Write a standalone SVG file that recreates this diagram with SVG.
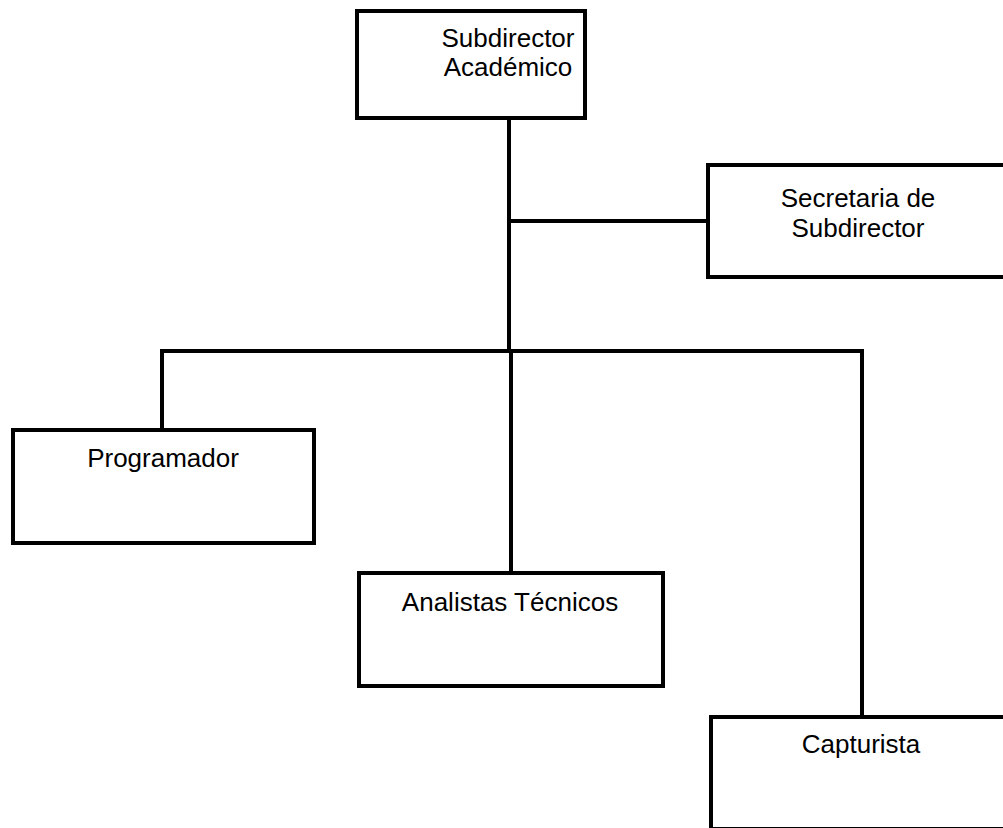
<svg xmlns="http://www.w3.org/2000/svg" width="1003" height="828" viewBox="0 0 1003 828">
  <style>
    .box { fill: #ffffff; stroke: #000000; stroke-width: 4; }
    .wire { fill: none; stroke: #000000; stroke-width: 4; stroke-linecap: square; }
    .label { font-family: "Liberation Sans", Arial, sans-serif; font-size: 26px; fill: #000000; text-anchor: middle; }
  </style>
  <rect x="0" y="0" width="1003" height="828" fill="#ffffff"/>

  <!-- organisational tree wiring -->
  <g id="connectors">
    <line class="wire" x1="509" y1="118" x2="509" y2="351"/>
    <line class="wire" x1="509" y1="221" x2="708" y2="221"/>
    <line class="wire" x1="162" y1="351" x2="862" y2="351"/>
    <line class="wire" x1="162" y1="351" x2="162" y2="430"/>
    <line class="wire" x1="511" y1="351" x2="511" y2="573"/>
    <line class="wire" x1="862" y1="351" x2="862" y2="717"/>
  </g>

  <g id="subdirector-academico">
    <rect class="box" x="357" y="11" width="228" height="107"/>
    <text class="label" x="508" y="47">Subdirector</text>
    <text class="label" x="508" y="76">Académico</text>
  </g>

  <g id="secretaria">
    <rect class="box" x="708" y="165" width="310" height="112"/>
    <text class="label" x="858" y="207">Secretaria de</text>
    <text class="label" x="858" y="237">Subdirector</text>
  </g>

  <g id="programador">
    <rect class="box" x="13" y="430" width="301" height="113"/>
    <text class="label" x="163" y="467">Programador</text>
  </g>

  <g id="analistas">
    <rect class="box" x="359" y="573" width="304" height="113"/>
    <text class="label" x="510" y="611">Analistas Técnicos</text>
  </g>

  <g id="capturista">
    <rect class="box" x="711" y="717" width="310" height="112"/>
    <text class="label" x="861" y="753">Capturista</text>
  </g>
</svg>
